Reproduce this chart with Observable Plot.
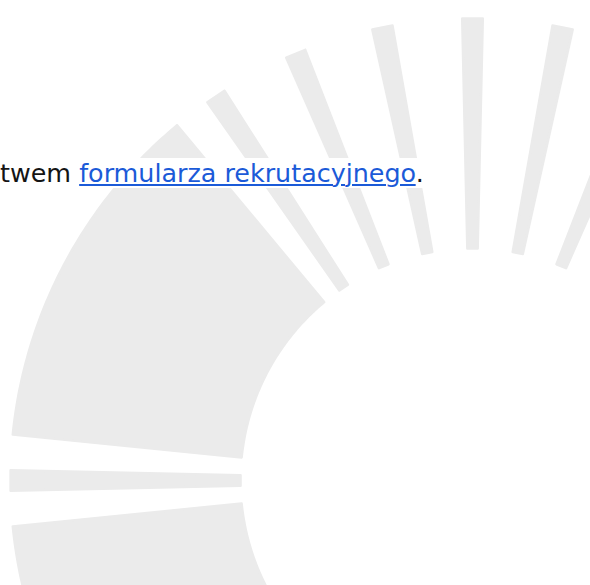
<!DOCTYPE html>
<html>
<head>
<meta charset="utf-8">
<script src="https://cdn.jsdelivr.net/npm/d3@7"></script>
<script src="https://cdn.jsdelivr.net/npm/@observablehq/plot@0.6"></script>
<style>
  html, body { margin: 0; padding: 0; background: #ffffff; }
  #wrap { position: relative; width: 590px; height: 585px; overflow: hidden; }
  #txt {
    position: absolute; left: 0; top: 157.5px; white-space: nowrap;
    font-family: "DejaVu Sans", sans-serif; font-size: 25.4px; line-height: normal;
    color: #141414;
  }
  #txt span { background: #ffffff; }
  #txt a { color: #1b5ad8; text-decoration: underline; text-decoration-thickness: 1.5px; text-underline-offset: 2px; background: #ffffff; }
</style>
</head>
<body>
<div id="wrap">
  <div id="chart"></div>
  <div id="txt"><span>twem </span><a href="#">formularza rekrutacyjnego</a><span>.</span></div>
</div>
<script>
// Sunburst logo: spokes (angle in degrees, measured counter-clockwise from +x)
const spokeAngles = [67.5, 78.75, 90, 101.25, 112.5, 123.75, 180];
const spokeWidth = 2.55;          // angular width of a spoke, degrees
const wedgeStarts = [129.75, 185.7];
const wedgeEnds = [174.3, 230.25];
const innerRadius = 232;
const outerRadius = 462;
const logoColor = "#ebebeb";

const rad = d => d * Math.PI / 180;
const pt = (r, a, id) => ({x: r * Math.cos(rad(a)), y: r * Math.sin(rad(a)), id});

const shapes = [];
spokeAngles.forEach((a, i) => {
  const id = "s" + i, h = spokeWidth / 2;
  shapes.push(pt(outerRadius, a - h, id), pt(outerRadius, a + h, id),
              pt(innerRadius, a + h, id), pt(innerRadius, a - h, id),
              pt(outerRadius, a - h, id));
});
wedgeStarts.forEach((s, i) => {
  const e = wedgeEnds[i], id = "w" + i;
  const angles = d3.range(s, e, 0.5).concat([e]);
  angles.forEach(a => shapes.push(pt(outerRadius, a, id)));
  angles.slice().reverse().forEach(a => shapes.push(pt(innerRadius, a, id)));
  shapes.push(pt(outerRadius, s, id));
});

const chart = Plot.plot({
  width: 590,
  height: 585,
  margin: 0,
  x: {domain: [-472, 118], axis: null},
  y: {domain: [-105, 480], axis: null},
  marks: [
    Plot.line(shapes, {x: "x", y: "y", z: "id", fill: logoColor, stroke: logoColor,
      strokeWidth: 2.5, strokeLinejoin: "round", curve: "linear"})
  ]
});
document.getElementById("chart").appendChild(chart);
</script>
</body>
</html>
